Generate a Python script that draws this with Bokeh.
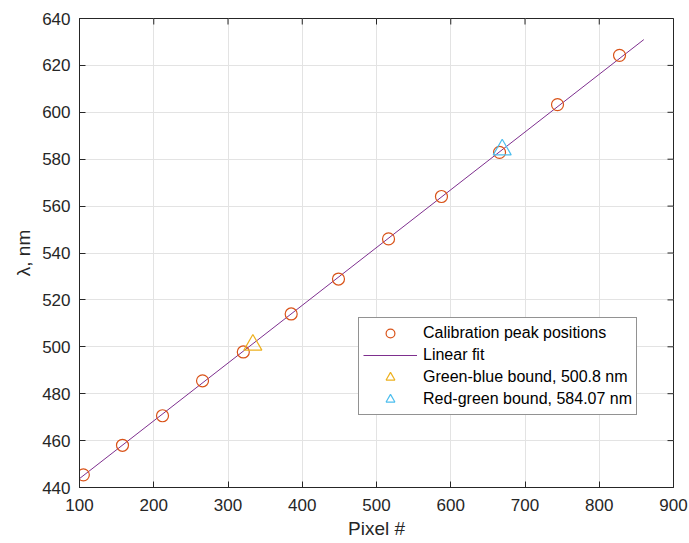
import math
from bokeh.plotting import figure
from bokeh.models import Range1d, Legend, LegendItem, FixedTicker
from bokeh.embed import file_html
from bokeh.resources import INLINE

# Calibration peaks (pixel, wavelength nm)
peak_px = [105.2, 157.9, 211.8, 265.7, 320.6, 385.1, 448.8, 516.2, 587.5, 665.7, 743.8, 827.3]
peak_nm = [445.4, 458.0, 470.6, 485.5, 497.8, 514.0, 528.9, 546.0, 564.1, 582.9, 603.3, 624.3]

# Linear fit endpoints
fit_px = [100.0, 860.0]
fit_nm = [443.8, 631.0]

# Bounds
gb_px = [333.5]
gb_nm = [500.8]
rg_px = [669.3]
rg_nm = [584.07]

x_ticks = [100, 200, 300, 400, 500, 600, 700, 800, 900]
y_ticks = [440, 460, 480, 500, 520, 540, 560, 580, 600, 620, 640]
x_max = 900
y_max = 640

FONT = "Liberation Sans"
DARK = "#262626"

p = figure(width=689, height=543, output_backend="svg", toolbar_location=None,
           x_range=Range1d(100, x_max), y_range=Range1d(440, y_max),
           min_border_left=79, min_border_right=16, min_border_top=18, min_border_bottom=56,
           x_axis_label="Pixel #", y_axis_label="λ, nm")
p.outline_line_color = DARK
p.outline_line_width = 1
p.background_fill_color = "white"
p.border_fill_color = "white"

for ax in [p.xaxis[0], p.yaxis[0]]:
    ax.major_tick_in = 6
    ax.major_tick_out = 0
    ax.minor_tick_line_color = None
    ax.axis_line_color = DARK
    ax.major_tick_line_color = DARK
    ax.major_label_text_color = DARK
    ax.major_label_text_font = FONT
    ax.major_label_text_font_size = "17px"
    ax.axis_label_text_font = FONT
    ax.axis_label_text_font_size = "19px"
    ax.axis_label_text_font_style = "normal"
    ax.axis_label_text_color = DARK

p.xaxis[0].ticker = FixedTicker(ticks=x_ticks)
p.yaxis[0].ticker = FixedTicker(ticks=y_ticks)
p.xaxis[0].major_label_standoff = 11
p.yaxis[0].major_label_standoff = 9
p.xaxis[0].axis_label_standoff = 4
p.yaxis[0].axis_label_standoff = 5

p.xgrid.ticker = FixedTicker(ticks=x_ticks)
p.ygrid.ticker = FixedTicker(ticks=y_ticks)
p.grid.grid_line_color = "#e3e3e3"
p.grid.grid_line_width = 1

# inward ticks on top and right edges (box style)
p.scatter(x_ticks, [y_max] * len(x_ticks), marker="dash", angle=math.pi / 2, size=12,
          line_color=DARK, line_width=1)
p.scatter([x_max] * len(y_ticks), y_ticks, marker="dash", size=12,
          line_color=DARK, line_width=1)

r_fit = p.line(fit_px, fit_nm, line_color="#7E2F8E", line_width=1)
r_peaks = p.scatter(peak_px, peak_nm, marker="circle", size=12, fill_color=None,
                    line_color="#D95319", line_width=1.2)
r_gb = p.scatter(gb_px, gb_nm, marker="triangle", size=18, fill_color=None,
                 line_color="#EDB120", line_width=1.2)
r_rg = p.scatter(rg_px, rg_nm, marker="triangle", size=18, fill_color=None,
                 line_color="#4DBEEE", line_width=1.2)

legend = Legend(items=[
    LegendItem(label="Calibration peak positions", renderers=[r_peaks]),
    LegendItem(label="Linear fit", renderers=[r_fit]),
    LegendItem(label="Green-blue bound, 500.8 nm", renderers=[r_gb]),
    LegendItem(label="Red-green bound, 584.07 nm", renderers=[r_rg]),
], location=(279, 72))
legend.label_text_font = FONT
legend.label_text_font_size = "16px"
legend.label_text_color = "black"
legend.glyph_width = 54
legend.glyph_height = 22
legend.label_height = 22
legend.label_standoff = 6
legend.spacing = 0
legend.padding = 4
legend.margin = 0
legend.border_line_color = DARK
legend.border_line_width = 1
legend.background_fill_color = "white"
legend.background_fill_alpha = 1
p.add_layout(legend, "center")

open("out.html", "w").write(file_html(p, INLINE))
